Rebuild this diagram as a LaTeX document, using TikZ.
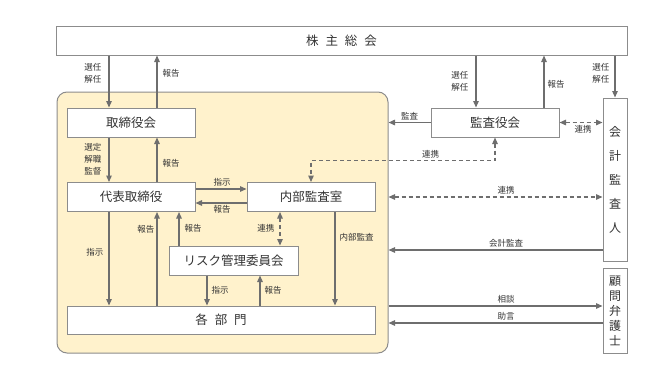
\documentclass[tikz,border=0pt]{standalone}
\usepackage{fontspec}
\setmainfont{Noto Sans CJK JP}
\usetikzlibrary{arrows.meta}
\definecolor{linegray}{HTML}{6E6E6E}
\definecolor{boxgray}{HTML}{8C8C8C}
\definecolor{txtgray}{HTML}{333333}
\definecolor{corpfill}{HTML}{FFF2CC}

\begin{document}
\begin{tikzpicture}[x=1pt,y=-1pt,
  box/.style={draw=boxgray,fill=white,line width=1pt,text=txtgray,font=\fontsize{12.5}{15}\selectfont,inner sep=0pt},
  arr/.style={draw=linegray,line width=1.3pt,-{Triangle[length=6.5pt,width=5.5pt]}},
  darr/.style={arr,{Triangle[length=6.5pt,width=5.5pt]}-{Triangle[length=6.5pt,width=5.5pt]},dash pattern=on 4pt off 3pt},
  lbl/.style={text=txtgray,font=\fontsize{8.5}{12}\selectfont,inner sep=1pt,align=center}]
\useasboundingbox (0,0) rectangle (653,367);
\node[box,minimum width=571pt,minimum height=29pt] (sh) at (341.5,40.5) {株\hspace{0.55em}主\hspace{0.55em}総\hspace{0.55em}会};
\node[draw=boxgray,fill=corpfill,rounded corners=10pt,line width=1pt,minimum width=331pt,minimum height=261pt] (corp) at (222.5,222.5) {};
\node[box,minimum width=128pt,minimum height=29pt] (tb) at (131,122.5) {取締役会};
\node[box,minimum width=128pt,minimum height=29pt] (rep) at (131,197) {代表取締役};
\node[box,minimum width=128pt,minimum height=29pt] (ia) at (311,197) {内部監査室};
\node[box,minimum width=129pt,minimum height=29pt] (risk) at (233.5,260.5) {リスク管理委員会};
\node[box,minimum width=308pt,minimum height=28pt] (dept) at (221,320) {各\hspace{0.55em}部\hspace{0.55em}門};
\node[box,minimum width=128pt,minimum height=29pt] (aud) at (495,122.5) {監査役会};
\node[box,minimum width=24pt,minimum height=163pt,font=\fontsize{12}{24}\selectfont,align=center] (acc) at (615,179.5) {会\\計\\監\\査\\人};
\node[box,minimum width=24pt,minimum height=85pt,font=\fontsize{12}{15}\selectfont,align=center] (law) at (615,310.5) {顧\\問\\弁\\護\\士};

\draw[arr] ([xshift=-22pt]tb.north |- sh.south) -- node[lbl,left=6pt,pos=0.35] (l1) {選任\\解任} ([xshift=-22pt]tb.north);
\draw[arr] ([xshift=26pt]tb.north) -- node[lbl,right=4pt,pos=0.66] (l2) {報告} ([xshift=26pt]tb.north |- sh.south);
\draw[arr] ([xshift=-22pt]tb.south) -- node[lbl,left=6pt,pos=0.5] (l3) {選定\\解職\\監督} ([xshift=-22pt]rep.north);
\draw[arr] ([xshift=26pt]rep.north) -- node[lbl,right=4pt,pos=0.42] (l4) {報告} ([xshift=26pt]tb.south);
\draw[arr] ([yshift=8pt]rep.east) -- node[lbl,above=1pt,pos=0.52] (l5) {指示} ([yshift=8pt]ia.west);
\draw[arr] ([yshift=-6pt]ia.west) -- node[lbl,below=1pt,pos=0.48] (l6) {報告} ([yshift=-6pt]rep.east);
\draw[arr] ([xshift=-22pt]rep.south) -- node[lbl,left=4pt,pos=0.43] (l7) {指示} ([xshift=-22pt]rep.south |- dept.north);
\draw[arr] ([xshift=26pt]rep.south |- dept.north) -- node[lbl,left=1pt,pos=0.82] (l8) {報告} ([xshift=26pt]rep.south);
\draw[arr] ([xshift=-54.5pt]risk.north) -- node[lbl,right=4pt,pos=0.5] (l9) {報告} ([xshift=-54.5pt]risk.north |- rep.south);
\draw[darr] ([xshift=-31pt]ia.south) -- node[lbl,left=4pt,pos=0.5] (l10) {連携} ([xshift=-31pt]ia.south |- risk.north);
\draw[arr] ([xshift=-26.5pt]risk.south) -- node[lbl,right=3pt,pos=0.48] (l11) {指示} ([xshift=-26.5pt]risk.south |- dept.north);
\draw[arr] ([xshift=26.5pt]risk.south |- dept.north) -- node[lbl,right=3pt,pos=0.5] (l12) {報告} ([xshift=26.5pt]risk.south);
\draw[arr] ([xshift=24pt]ia.south) -- node[lbl,right=3pt,pos=0.27] (l13) {内部監査} ([xshift=24pt]ia.south |- dept.north);

\draw[arr] ([xshift=-19pt]aud.north |- sh.south) -- node[lbl,left=6pt,pos=0.5] (l14) {選任\\解任} ([xshift=-19pt]aud.north);
\draw[arr] ([xshift=49pt]aud.north) -- node[lbl,right=2pt,pos=0.45] (l15) {報告} ([xshift=49pt]aud.north |- sh.south);
\draw[arr] (acc.north |- sh.south) -- node[lbl,left=4pt,pos=0.42] (l16) {選任\\解任} (acc.north);
\draw[arr] (aud.west) -- node[lbl,above=1pt,pos=0.5] (l17) {監査} (aud.west -| corp.east);
\draw[darr] (aud.east) -- node[lbl,below=1pt,pos=0.55] (l18) {連携} (aud.east -| acc.west);
\draw[darr] (aud.south) -- ([yshift=-23pt]aud.south) -- node[lbl,above=1pt,pos=0.35] (l19) {連携} ([yshift=-23pt]aud.south -| ia.north) -- (ia.north);
\draw[darr] (ia.east -| corp.east) -- node[lbl,above=1pt,pos=0.55] (l20) {連携} (ia.east -| acc.west);
\draw[arr] ([yshift=-70.5pt]acc.west) -- node[lbl,above=1pt,pos=0.45] (l21) {会計監査} ([yshift=-70.5pt]acc.west -| corp.east);
\draw[arr] ([yshift=4.5pt]law.west -| corp.east) -- node[lbl,above=1pt,pos=0.55] (l22) {相談} ([yshift=4.5pt]law.west);
\draw[arr] ([yshift=-12.5pt]law.west) -- node[lbl,above=1pt,pos=0.45] (l23) {助言} ([yshift=-12.5pt]law.west -| corp.east);
\end{tikzpicture}
\end{document}
